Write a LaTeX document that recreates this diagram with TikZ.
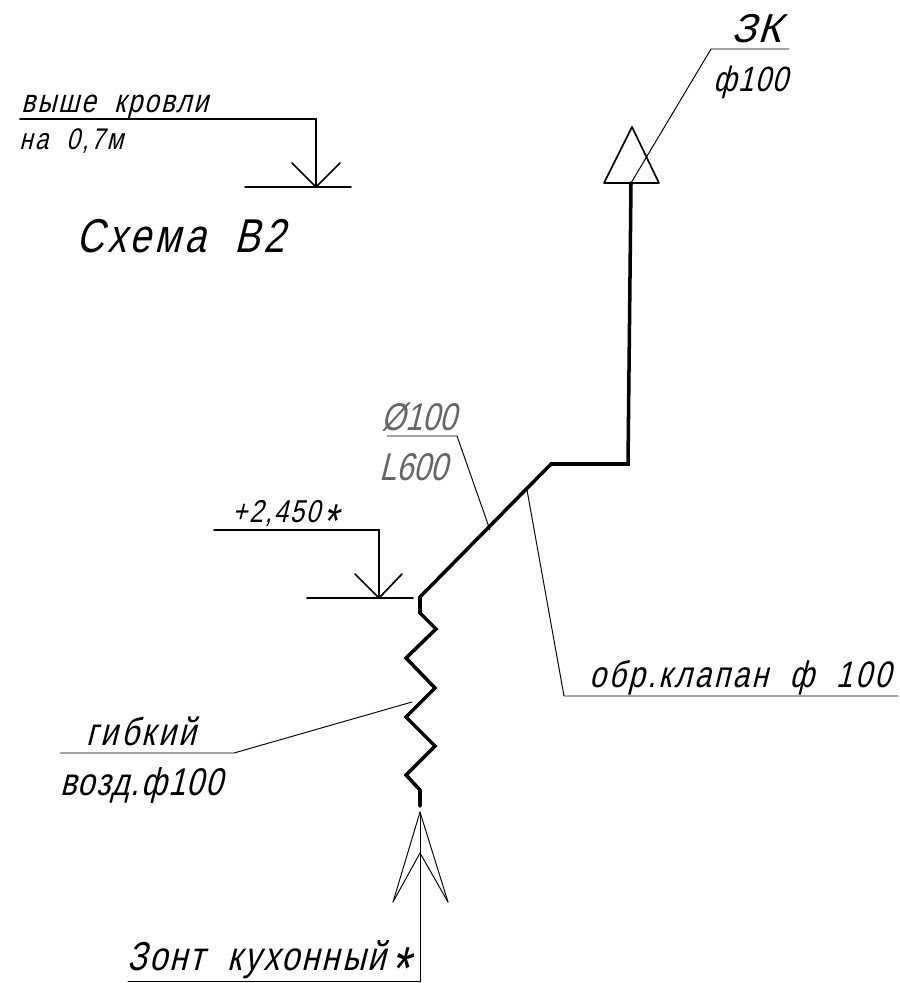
\documentclass[tikz,border=0pt]{standalone}
\usepackage{fontspec}
\usepackage{tkz-euclide}
\newfontfamily\cadfont[FakeSlant=0.25,FakeStretch=0.8,WordSpace=2]{Liberation Sans}
\tikzset{
	thinline/.style={black, line width=0.55pt},
	markline/.style={black, line width=0.95pt},
	pipeline/.style={black, line width=2pt, line join=miter},
	cadtext/.style 2 args={inner sep=0pt, anchor=base west, font=\cadfont\fontsize{#1}{#1}\selectfont\addfontfeature{LetterSpace=#2}},
	cadgray/.style 2 args={cadtext={#1}{#2}, text=black!60}
}
% level mark: base left, base right, foot, left tick, right tick
\newcommand{\myShowMark}[5]{
	\tkzDrawSegments[markline](#1,#2 #3,#4 #3,#5)
}
\newcommand{\myStar}{\kern0.05em\raisebox{-0.48em}{\scalebox{1.5}{*}}}

\begin{document}
\begin{tikzpicture}[x=0.02cm, y=-0.02cm]
	\useasboundingbox (0,0) rectangle (899,983);
	% roof mark
	\tkzDefPoints{20/119/R0, 316/119/R1, 316/187/R2, 245/187/R3, 351/187/R4, 292/163/R5, 340/163/R6}
	\tkzDrawPolySeg[markline](R0,R1,R2)
	\myShowMark{R3}{R4}{R2}{R5}{R6}
	% level mark
	\tkzDefPoints{214/530/L0, 379/530/L1, 379/598/L2, 307/598/L3, 413/598/L4, 355/574/L5, 402/574/L6}
	\tkzDrawPolySeg[markline](L0,L1,L2)
	\myShowMark{L3}{L4}{L2}{L5}{L6}
	% thick pipe with flexible part
	\tkzDefPoints{631/183/P0, 628/464/P1, 551/464/P2, 420/597/P3, 420/613/P4, 436/629/P5, 406/658/P6}
	\tkzDefPoints{435/688/P7, 406/717/P8, 435/746/P9, 406/775/P10, 420/790/P11, 420/806/P12}
	\tkzDrawPolySeg[pipeline](P0,P1,P2,P3,P4,P5,P6,P7,P8,P9,P10,P11,P12)
	% top triangle
	\tkzDefPoints{632/127/T0, 604/183/T1, 659/183/T2, 711/49/T3, 789/49/T4}
	\tkzDrawPolygon[markline](T0,T1,T2)
	\tkzDrawPolySeg[thinline](P0,T3,T4)
	% hood arrow
	\tkzDefPoints{420/812/H0, 393/902/H1, 448/902/H2, 420/853/H3, 420/981/H4, 128/981/H5}
	\tkzDrawSegments[thinline](H0,H1 H0,H2 H3,H1 H3,H2)
	\tkzDrawPolySeg[thinline](H0,H4,H5)
	% leaders
	\tkzDefPoints{387/436/A0, 457/436/A1, 490/530/A2}
	\tkzDrawPolySeg[thinline](A0,A1,A2)
	\tkzDefPoints{527/490/B0, 564/696/B1, 898/696/B2}
	\tkzDrawPolySeg[thinline](B0,B1,B2)
	\tkzDefPoints{60/753/C0, 234/753/C1, 412/702/C2}
	\tkzDrawPolySeg[thinline](C0,C1,C2)
	% texts
	\node[cadtext={18.5}{6.5}] (roofA) at (21,113) {выше кровли};
	\node[cadtext={17}{8}] (roofB) at (19,150) {на 0,7м};
	\node[cadtext={27}{8}] (title) at (76,253) {Схема В2};
	\node[cadtext={23}{4}] (topA) at (731,43) {\scalebox{1.25}[1]{ЗК}};
	\node[cadtext={20}{4}] (topB) at (713,92) {ф100};
	\node[cadtext={18}{6}] (level) at (232,522) {+2,450\myStar};
	\node[cadgray={22}{0}] (diam) at (381,430) {Ø100};
	\node[cadgray={22}{0}] (len) at (379,480) {L600};
	\node[cadtext={21}{7.5}] (valve) at (589,687) {обр.клапан ф 100};
	\node[cadtext={22}{8}] (flexA) at (86,745) {гибкий};
	\node[cadtext={22}{4}] (flexB) at (60,795) {возд.ф100};
	\node[cadtext={23}{6}] (hood) at (127,970) {Зонт кухонный\myStar};
\end{tikzpicture}
\end{document}
